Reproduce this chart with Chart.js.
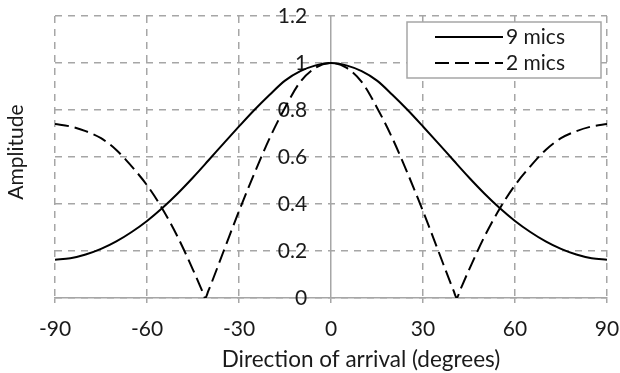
<!DOCTYPE html>
<html><head><meta charset="utf-8">
<script src="https://cdn.jsdelivr.net/npm/chart.js@4/dist/chart.umd.min.js"></script>
<style>html,body{margin:0;padding:0;background:#fff}#wrap{width:620px;height:373px}</style>
</head><body><div id="wrap"><canvas id="c" width="620" height="373"></canvas></div>
<script>
// ---- data ----
const seriesNames = ['9 mics', '2 mics'];
const nineAngles = [-90,-85,-80,-75,-70,-65,-60,-55,-50,-45,-40,-35,-30,-25,-20,-15,-10,-5,0,5,10,15,20,25,30,35,40,45,50,55,60,65,70,75,80,85,90];
const nineMics   = [0.163,0.169,0.185,0.209,0.241,0.281,0.328,0.383,0.445,0.513,0.585,0.658,0.73,0.80,0.865,0.925,0.965,0.99,1.00,0.99,0.965,0.925,0.865,0.80,0.73,0.658,0.585,0.513,0.445,0.383,0.328,0.281,0.241,0.209,0.185,0.169,0.163];
const twoAngles  = [-90,-85,-80,-75,-70,-65,-60,-55,-50,-45,-42,-41,-40,-35,-30,-25,-20,-15,-10,-5,0,5,10,15,20,25,30,35,40,41,42,45,50,55,60,65,70,75,80,85,90];
const twoMics    = [0.74,0.73,0.71,0.68,0.63,0.56,0.48,0.38,0.26,0.12,0.03,0.00,0.03,0.20,0.37,0.53,0.68,0.81,0.92,0.98,1.00,0.98,0.92,0.81,0.68,0.53,0.37,0.20,0.03,0.00,0.03,0.12,0.26,0.38,0.48,0.56,0.63,0.68,0.71,0.73,0.74];
const xTicks = [-90,-60,-30,0,30,60,90];
const yTicks = [0,0.2,0.4,0.6,0.8,1,1.2];
const yTickLabels = ['0','0.2','0.4','0.6','0.8','1','1.2'];
const xTitle = 'Direction of arrival (degrees)';
const yTitle = 'Amplitude';

// ---- styles ----
const FONT = 'Lato, "Open Sans", sans-serif';
const FS = 21;
const TXT = '#1a1a1a';
const GRID = '#a6a6a6';

const pts = (xs, ys) => xs.map((x, i) => ({x, y: ys[i]}));

const extras = {
  id: 'extras',
  afterDraw(chart) {
    const {ctx} = chart;
    // axis titles
    ctx.save();
    ctx.fillStyle = TXT;
    ctx.font = '22.5px ' + FONT;
    ctx.textAlign = 'center';
    ctx.textBaseline = 'alphabetic';
    ctx.fillText(xTitle, 361, 367);
    ctx.font = FS + 'px ' + FONT;
    ctx.translate(23, 152);
    ctx.rotate(-Math.PI / 2);
    ctx.fillText(yTitle, 0, 0);
    ctx.restore();
    // legend
    ctx.save();
    const bx = 407, by = 22, bw = 194, bh = 56;
    ctx.fillStyle = '#fff';
    ctx.fillRect(bx, by, bw, bh);
    ctx.strokeStyle = GRID;
    ctx.lineWidth = 1.5;
    ctx.strokeRect(bx, by, bw, bh);
    chart.data.datasets.forEach((ds, i) => {
      const y = by + 15 + i * 26;
      ctx.beginPath();
      ctx.setLineDash(ds.borderDash || []);
      ctx.strokeStyle = ds.borderColor;
      ctx.lineWidth = ds.borderWidth;
      ctx.moveTo(435, y);
      ctx.lineTo(503, y);
      ctx.stroke();
      ctx.setLineDash([]);
      ctx.fillStyle = TXT;
      ctx.font = FS + 'px ' + FONT;
      ctx.textAlign = 'left';
      ctx.textBaseline = 'alphabetic';
      ctx.fillText(ds.label, 506, y + 7);
    });
    ctx.restore();
  }
};

new Chart(document.getElementById('c'), {
  type: 'line',
  data: {
    datasets: [
      {label: seriesNames[0], data: pts(nineAngles, nineMics), borderColor: '#000', borderWidth: 2, pointRadius: 0, fill: false, cubicInterpolationMode: 'monotone'},
      {label: seriesNames[1], data: pts(twoAngles, twoMics), borderColor: '#000', borderWidth: 2, borderDash: [14, 6], pointRadius: 0, fill: false, cubicInterpolationMode: 'monotone'}
    ]
  },
  options: {
    responsive: false,
    animation: false,
    devicePixelRatio: 1,
    layout: {padding: {left: 55, right: 13, top: 16, bottom: 1.5}},
    plugins: {legend: {display: false}, tooltip: {enabled: false}},
    scales: {
      x: {
        type: 'linear', min: -90, max: 90,
        afterBuildTicks: s => { s.ticks = xTicks.map(v => ({value: v})); },
        afterFit: s => { s.paddingLeft = 0; s.paddingRight = 0; s.height = 73.5; },
        ticks: {color: TXT, font: {family: FONT, size: FS}, padding: 14, maxRotation: 0, autoSkip: false},
        grid: {color: GRID, lineWidth: 1.5, tickLength: 5, tickColor: GRID, tickWidth: 1.5},
        border: {display: true, color: GRID, width: 1.5, dash: c => (c.tick && c.tick.value === 0) ? [] : [7, 6]},
        title: {display: false}
      },
      y: {
        type: 'linear', min: 0, max: 1.2,
        position: {x: -7.8},
        afterBuildTicks: s => { s.ticks = yTicks.map(v => ({value: v})); },
        ticks: {color: TXT, font: {family: FONT, size: FS}, callback: (v, i) => yTickLabels[i]},
        grid: {color: GRID, lineWidth: 1.5, drawTicks: false},
        border: {display: false, dash: [7, 6]}
      }
    }
  },
  plugins: [extras]
});
</script>
</body></html>
